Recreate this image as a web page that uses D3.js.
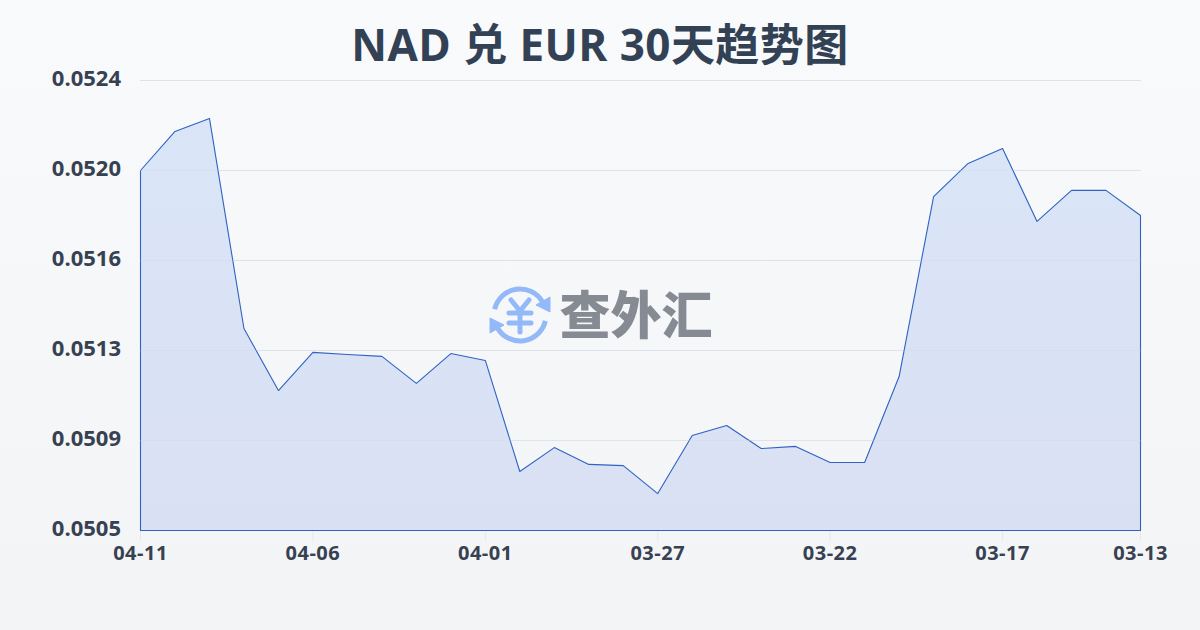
<!DOCTYPE html>
<html><head><meta charset="utf-8">
<script src="https://cdn.jsdelivr.net/npm/d3@7/dist/d3.min.js"></script>
<style>html,body{margin:0;padding:0;background:#f6f7f9}svg{display:block}</style>
</head><body><svg id="c" width="1200" height="630"></svg>
<script>
const dates=["04-11","04-10","04-09","04-08","04-07","04-06","04-05","04-04","04-03","04-02","04-01","03-31","03-30","03-29","03-28","03-27","03-26","03-25","03-24","03-23","03-22","03-21","03-20","03-19","03-18","03-17","03-16","03-15","03-14","03-13"];
const rates=[0.05202,0.052185,0.05224,0.051353,0.051091,0.051252,0.051243,0.051235,0.051121,0.051247,0.051218,0.050749,0.05085,0.050779,0.050774,0.050656,0.050901,0.050943,0.050846,0.050855,0.050787,0.050787,0.05115,0.05191,0.05205,0.052113,0.051805,0.051936,0.051936,0.05183];
const yTicks=[0.0505,0.05088,0.05126,0.05164,0.05202,0.0524];
const xLabels=["04-11","04-06","04-01","03-27","03-22","03-17","03-13"];
const titleText="NAD 兑 EUR 30天趋势图";
const brand="查外汇";
const font="'Open Sans','Noto Sans CJK SC',sans-serif";

const svg=d3.select("#c");
const defs=svg.append("defs");
const bg=defs.append("linearGradient").attr("id","bg").attr("x1",0).attr("y1",0).attr("x2",0).attr("y2",1);
bg.append("stop").attr("offset","0%").attr("stop-color","#f8fafc");
bg.append("stop").attr("offset","100%").attr("stop-color","#f3f4f6");
const fg=defs.append("linearGradient").attr("id","fg").attr("x1",0).attr("y1",0).attr("x2",0).attr("y2",1);
fg.append("stop").attr("offset","0%").attr("stop-color","#d9e5f7");
fg.append("stop").attr("offset","100%").attr("stop-color","#d9e0f3");
svg.append("rect").attr("width",1200).attr("height",630).attr("fill","url(#bg)");

const x=d3.scalePoint().domain(dates).range([140.5,1140.5]);
const y=d3.scaleLinear().domain([0.0505,0.0524]).range([530.5,80.5]);

svg.append("text").attr("x",600).attr("y",61).attr("text-anchor","middle").attr("letter-spacing",0.45)
  .attr("font-family",font).attr("font-weight",700).attr("font-size",44).attr("fill","#334155").text(titleText);

svg.append("g").selectAll("line").data(yTicks.slice(1)).join("line")
  .attr("x1",140).attr("x2",1141).attr("y1",d=>y(d)).attr("y2",d=>y(d))
  .attr("stroke","#e6e8ed").attr("stroke-width",1);

svg.append("g").selectAll("text").data(yTicks).join("text")
  .attr("x",121).attr("y",d=>y(d)+5).attr("text-anchor","end")
  .attr("font-family",font).attr("font-weight",700).attr("font-size",22).attr("fill","#374151")
  .text(d=>d.toFixed(4));

svg.append("g").selectAll("line").data(xLabels).join("line")
  .attr("x1",d=>x(d)).attr("x2",d=>x(d)).attr("y1",531).attr("y2",541)
  .attr("stroke","#e6e8ed");
svg.append("g").selectAll("text").data(xLabels).join("text")
  .attr("x",d=>x(d)).attr("y",560).attr("text-anchor","middle").attr("letter-spacing",0.5)
  .attr("font-family",font).attr("font-weight",700).attr("font-size",20).attr("fill","#374151").text(d=>d);

const area=d3.area().x((d,i)=>x(dates[i])).y0(y(0.0505)).y1(d=>y(d));
svg.append("path").datum(rates).attr("d",area(rates)+"Z").attr("fill","url(#fg)").attr("fill-opacity",0.98)
  .attr("stroke","#2f62c4").attr("stroke-width",1.1).attr("stroke-linejoin","round");
svg.append("g").selectAll("line").data(yTicks.slice(1)).join("line")
  .attr("x1",140).attr("x2",1141).attr("y1",d=>y(d)).attr("y2",d=>y(d))
  .attr("stroke","#ccd3e4").attr("stroke-opacity",0.3).attr("stroke-width",1);

const logo=svg.append("g").attr("transform","translate(520,315)");
const blue="#93b9f8";
const arc1=d3.arc()({innerRadius:26,outerRadius:26,startAngle:-1.35,endAngle:1.05});
const arc2=d3.arc()({innerRadius:26,outerRadius:26,startAngle:1.8,endAngle:4.2});
logo.append("path").attr("d",arc1).attr("fill","none").attr("stroke",blue).attr("stroke-width",5).attr("stroke-linecap","round");
logo.append("path").attr("d",arc2).attr("fill","none").attr("stroke",blue).attr("stroke-width",5).attr("stroke-linecap","round");
logo.append("path").attr("d","M30,-18 L30,-3 L16,-10 Z").attr("fill",blue).attr("stroke",blue).attr("stroke-linejoin","round");
logo.append("path").attr("d","M-30,18 L-30,3 L-16,10 Z").attr("fill",blue).attr("stroke",blue).attr("stroke-linejoin","round");
logo.append("path").attr("d","M-9,-15 L0,-4 L9,-15 M-11,-2 H11 M-11,8 H11 M0,-4 V17").attr("fill","none").attr("stroke",blue).attr("stroke-width",5).attr("stroke-linecap","round").attr("stroke-linejoin","round");
svg.append("text").attr("x",636).attr("y",334).attr("text-anchor","middle")
  .attr("font-family","'Noto Sans CJK SC',sans-serif").attr("font-weight",900).attr("font-size",51).attr("fill","#868a92").text(brand);
</script></body></html>
